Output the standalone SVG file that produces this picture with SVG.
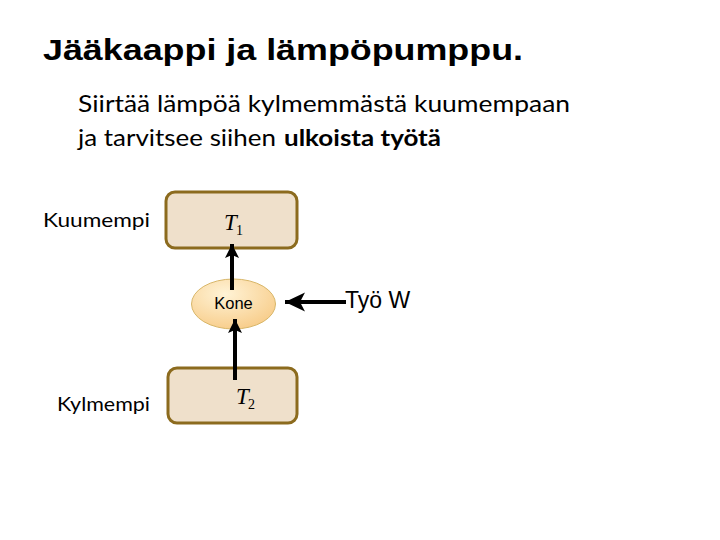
<svg xmlns="http://www.w3.org/2000/svg" width="720" height="540" viewBox="0 0 720 540">
<defs>
<style>
.title{font-family:"Liberation Sans",Arial,sans-serif;font-weight:bold;font-size:29px;fill:#000}
.sub{font-family:Lato,"Open Sans",sans-serif;font-size:23px;fill:#000}
.lbl{font-family:Lato,"Open Sans",sans-serif;font-size:19px;fill:#000}
.box{fill:#EFE0CB;stroke:#8C6B1E;stroke-width:3}
.math{font-family:"Liberation Serif","Times New Roman",serif;fill:#000}
.arr{stroke:#000;stroke-width:4;fill:none}
</style>
<radialGradient id="eg" cx="0.4" cy="0.3" r="0.8">
<stop offset="0" stop-color="#FFF3D6"/>
<stop offset="1" stop-color="#F7C983"/>
</radialGradient>
<marker id="ah" markerUnits="userSpaceOnUse" viewBox="0 0 14 14" markerWidth="14" markerHeight="14" refX="14" refY="7" orient="auto">
<path d="M0,0 L14,7 L0,14 L3,7 Z" fill="#000"/>
</marker>
<marker id="ahb" markerUnits="userSpaceOnUse" viewBox="0 0 20 20" markerWidth="20" markerHeight="20" refX="20" refY="10" orient="auto">
<path d="M0,0.5 L20,10 L0,19.5 L5,10 Z" fill="#000"/>
</marker>
</defs>
<rect width="720" height="540" fill="#fff"/>
<text class="title" x="43" y="60" textLength="480" lengthAdjust="spacingAndGlyphs">Jääkaappi ja lämpöpumppu.</text>
<text class="sub" x="78" y="112" textLength="492" lengthAdjust="spacingAndGlyphs">Siirtää lämpöä kylmemmästä kuumempaan</text>
<text class="sub" x="78" y="146" textLength="198" lengthAdjust="spacingAndGlyphs">ja tarvitsee siihen</text>
<text class="sub" x="284" y="146" font-weight="bold" textLength="157" lengthAdjust="spacingAndGlyphs">ulkoista työtä</text>
<g id="hot">
<rect class="box" x="166" y="192" width="131" height="56" rx="9"/>
<text class="math" x="224" y="230" font-size="23" font-style="italic">T</text>
<text class="math" x="236" y="235" font-size="14">1</text>
<text class="lbl" x="43" y="227" textLength="107" lengthAdjust="spacingAndGlyphs">Kuumempi</text>
</g>
<g id="cold">
<rect class="box" x="168" y="368" width="129" height="55" rx="9"/>
<text class="math" x="236" y="404" font-size="23" font-style="italic">T</text>
<text class="math" x="248" y="409" font-size="14">2</text>
<text class="lbl" x="57" y="411" textLength="93" lengthAdjust="spacingAndGlyphs">Kylmempi</text>
</g>
<g id="kone">
<ellipse cx="233.5" cy="304" rx="42" ry="25" fill="url(#eg)" stroke="#D8B668" stroke-width="1"/>
<text x="233.5" y="309" text-anchor="middle" font-family="Liberation Sans,Arial,sans-serif" font-size="16.5">Kone</text>
</g>
<g id="work">
<text x="345" y="308" font-family="Liberation Sans,Arial,sans-serif" font-size="23">Työ W</text>
</g>
<g id="connectors">
<line class="arr" x1="232" y1="290" x2="232" y2="244" marker-end="url(#ah)"/>
<line class="arr" x1="235" y1="380" x2="235" y2="319" marker-end="url(#ah)"/>
<line class="arr" x1="346" y1="302" x2="285" y2="302" marker-end="url(#ahb)"/>
</g>
</svg>
